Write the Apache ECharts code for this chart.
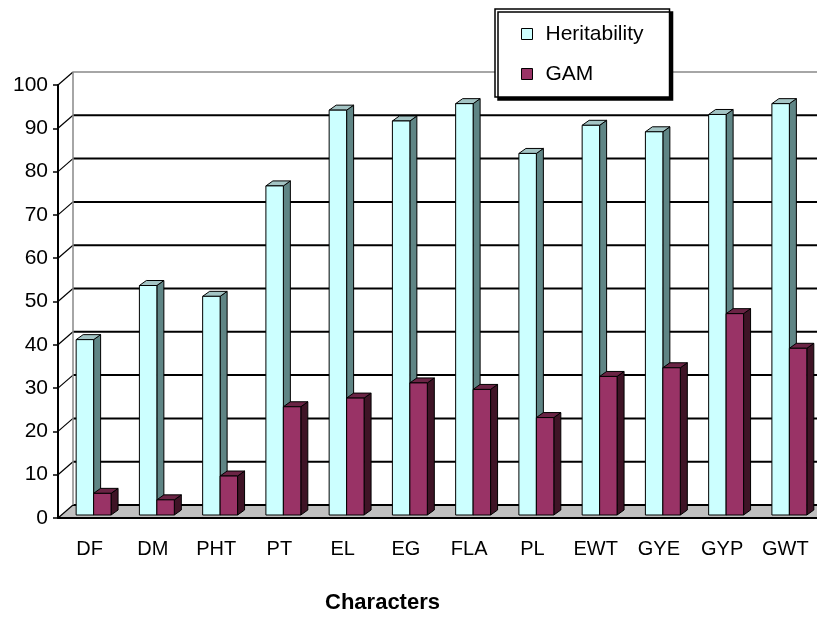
<!DOCTYPE html>
<html>
<head>
<meta charset="utf-8">
<script src="https://cdn.jsdelivr.net/npm/echarts@6/dist/echarts.min.js"></script>
<style>html,body{margin:0;padding:0;background:#fff;}#c{width:817px;height:620px;}</style>
</head>
<body>
<div id="c"></div>
<script>
const categories = ['DF','DM','PHT','PT','EL','EG','FLA','PL','EWT','GYE','GYP','GWT'];
const heritability = [40.5, 53, 50.5, 76, 93.5, 91, 95, 83.5, 90, 88.5, 92.5, 95];
const gam = [5, 3.5, 9, 25, 27, 30.5, 29, 22.5, 32, 34, 46.5, 38.5];
const yTicks = [0, 10, 20, 30, 40, 50, 60, 70, 80, 90, 100];

const FONT = '"Liberation Sans", Arial, sans-serif';
const WALL_DX = 15, WALL_DY = -13;
const BAR_DX = 7, BAR_DY = -5;

function wallItem(params, api) {
  const cs = params.coordSys;
  const v = api.value(1);
  const y = api.coord([0, v])[1];
  const children = [];
  const xL = cs.x, xR = cs.x + cs.width + 30;
  if (v === 0) {
    children.push({type:'polygon', shape:{points:[[xL,y],[xR,y],[xR+WALL_DX,y+WALL_DY],[xL+WALL_DX,y+WALL_DY]]},
      style:{fill:'#c0c0c0', stroke:null}});
  }
  const isTop = v === 100;
  children.push({type:'line', shape:{x1:xL, y1:y, x2:xL+WALL_DX, y2:y+WALL_DY},
    style:{stroke:'#000', lineWidth:1.2}});
  children.push({type:'line', shape:{x1:xL+WALL_DX, y1:y+WALL_DY, x2:xR, y2:y+WALL_DY},
    style:{stroke: isTop ? '#888' : '#000', lineWidth: isTop ? 1.5 : 2}});
  if (isTop) {
    const y0 = api.coord([0, 0])[1];
    children.push({type:'line', shape:{x1:xL+WALL_DX, y1:y0+WALL_DY, x2:xL+WALL_DX, y2:y+WALL_DY},
      style:{stroke:'#888', lineWidth:1.5}});
  }
  return {type:'group', children};
}

function barRenderer(offsetFrac, front, side, top) {
  return function(params, api) {
    const idx = api.value(0), val = api.value(1);
    const base = api.coord([idx, 0]);
    const tp = api.coord([idx, val]);
    const cw = api.size([1, 0])[0];
    const x0 = base[0] + cw * offsetFrac;
    const x1 = x0 + cw * 0.276;
    const yb = base[1] - 3, yt = tp[1] - 3;
    const st = {stroke:'#000', lineWidth:1};
    return {type:'group', children:[
      {type:'polygon', shape:{points:[[x1,yb],[x1+BAR_DX,yb+BAR_DY],[x1+BAR_DX,yt+BAR_DY],[x1,yt]]}, style:Object.assign({fill:side}, st)},
      {type:'polygon', shape:{points:[[x0,yt],[x0+BAR_DX,yt+BAR_DY],[x1+BAR_DX,yt+BAR_DY],[x1,yt]]}, style:Object.assign({fill:top}, st)},
      {type:'rect', shape:{x:x0, y:yt, width:x1-x0, height:yb-yt}, style:Object.assign({fill:front}, st)}
    ]};
  };
}

const chart = echarts.init(document.getElementById('c'), null, {renderer:'canvas'});
chart.setOption({
  animation: false,
  backgroundColor: '#fff',
  grid: {left: 58, right: 0, top: 85, bottom: 102, containLabel: false},
  legend: {
    orient: 'vertical', left: 495, top: 9,
    padding: [13, 26, 11, 26], itemGap: 16,
    itemWidth: 11, itemHeight: 11, icon: 'rect',
    backgroundColor: '#fff', borderColor: '#000', borderWidth: 1.5,
    shadowColor: '#000', shadowBlur: 0, shadowOffsetX: 3, shadowOffsetY: 3,
    textStyle: {fontFamily: FONT, fontSize: 21, color: '#000', lineHeight: 24, padding: [0,0,0,8]},
    data: [
      {name:'Heritability', itemStyle:{color:'#CCFFFF', borderColor:'#000', borderWidth:1}},
      {name:'GAM', itemStyle:{color:'#993366', borderColor:'#000', borderWidth:1}}
    ],
    z: 20
  },
  xAxis: {
    type: 'category', data: categories, z: 10,
    axisLine: {lineStyle: {color:'#000', width: 2}},
    axisTick: {length: 6, lineStyle: {color:'#000', width: 1.5}},
    axisLabel: {fontFamily: FONT, fontSize: 20, color:'#000', margin: 21},
    name: 'Characters', nameLocation: 'middle', nameGap: 74,
    nameTextStyle: {fontFamily: FONT, fontSize: 22, fontWeight: 'bold', color:'#000', padding: [0, 110, 0, 0]},
    splitLine: {show: false}
  },
  yAxis: {
    type: 'value', min: 0, max: 100, interval: 10, z: 10,
    axisLine: {show: true, lineStyle: {color:'#000', width: 2}},
    axisTick: {show: true, length: 5, lineStyle: {color:'#000', width: 1.5}},
    axisLabel: {fontFamily: FONT, fontSize: 21, color:'#000', margin: 10},
    splitLine: {show: false}
  },
  series: [
    {type:'custom', name:'walls', renderItem: wallItem, data: yTicks.map(v => [0, v]),
     encode: {x: 0, y: 1}, z: 1, silent: true, legendHoverLink: false, tooltip:{show:false}},
    {type:'custom', name:'Heritability', renderItem: barRenderer(-0.213, '#CCFFFF', '#5F8585', '#A3C4C4'),
     data: heritability.map((v, i) => [i, v]), encode: {x: 0, y: 1}, z: 3,
     itemStyle: {color: '#CCFFFF'}},
    {type:'custom', name:'GAM', renderItem: barRenderer(0.063, '#993366', '#3F1426', '#6B2445'),
     data: gam.map((v, i) => [i, v]), encode: {x: 0, y: 1}, z: 4,
     itemStyle: {color: '#993366'}}
  ]
});
</script>
</body>
</html>
